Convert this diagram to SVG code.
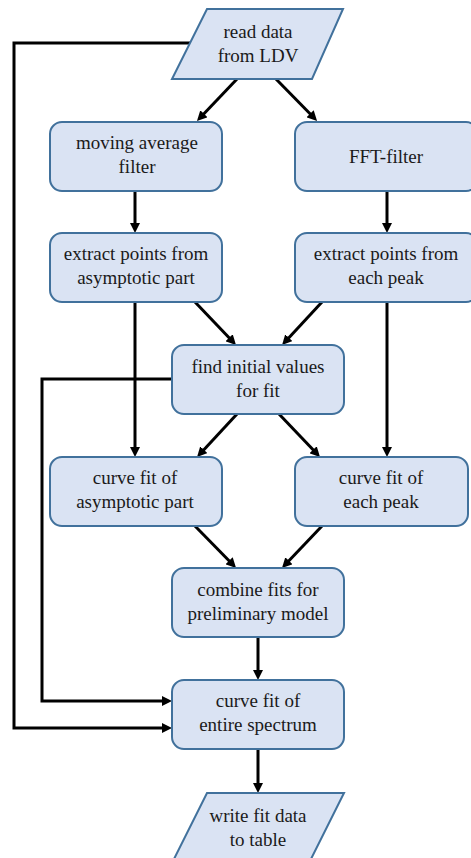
<svg xmlns="http://www.w3.org/2000/svg" width="471" height="858" viewBox="0 0 471 858">
<style>
.n{fill:#dae3f3;stroke:#41719c;stroke-width:2}
.t{font-family:'Liberation Serif','DejaVu Serif',serif;font-size:19px;fill:#1a1a1a;text-anchor:middle}
.c{fill:none;stroke:#000;stroke-width:3}
</style>
<defs>
<marker id="ah" viewBox="0 0 10 10" markerWidth="10" markerHeight="10" refX="2" refY="5" orient="auto" markerUnits="userSpaceOnUse">
<path d="M0,0 L10,5 L0,10 z" fill="#000"/>
</marker>
</defs>
<rect width="471" height="858" fill="#fff"/>
<g id="connectors">
<path class="c" d="M190,43 H14 V728 H164" marker-end="url(#ah)"/>
<path class="c" d="M172,379 H42 V701 H164" marker-end="url(#ah)"/>
<path class="c" d="M237,79 L202.5,115.2" marker-end="url(#ah)"/>
<path class="c" d="M276,79 L311.5,115.2" marker-end="url(#ah)"/>
<path class="c" d="M135,191 V225" marker-end="url(#ah)"/>
<path class="c" d="M387,191 V225" marker-end="url(#ah)"/>
<path class="c" d="M195,302 L230.5,339.2" marker-end="url(#ah)"/>
<path class="c" d="M322,302 L287.5,339.2" marker-end="url(#ah)"/>
<path class="c" d="M135,302 V449" marker-end="url(#ah)"/>
<path class="c" d="M387,302 V449" marker-end="url(#ah)"/>
<path class="c" d="M237,414 L202.5,451.2" marker-end="url(#ah)"/>
<path class="c" d="M279,414 L314.5,451.2" marker-end="url(#ah)"/>
<path class="c" d="M195,526 L230.5,562.2" marker-end="url(#ah)"/>
<path class="c" d="M322,526 L287.5,562.2" marker-end="url(#ah)"/>
<path class="c" d="M258,637 V672" marker-end="url(#ah)"/>
<path class="c" d="M258,749 V785" marker-end="url(#ah)"/>
</g>
<g id="read">
<path class="n" d="M207,9 H343 L312,79 H172 Z"/>
<text class="t" x="258" y="38" font-family="Liberation Serif">read data</text>
<text class="t" x="258" y="62">from LDV</text>
</g>
<g id="moving">
<rect class="n" x="50" y="122" width="172" height="69" rx="12"/>
<text class="t" x="137" y="149">moving average</text>
<text class="t" x="137" y="173">filter</text>
</g>
<g id="fft">
<rect class="n" x="295" y="122" width="183" height="69" rx="12"/>
<text class="t" x="386" y="163">FFT-filter</text>
</g>
<g id="extractAsym">
<rect class="n" x="50" y="233" width="172" height="69" rx="12"/>
<text class="t" x="136" y="260">extract points from</text>
<text class="t" x="136" y="284">asymptotic part</text>
</g>
<g id="extractPeak">
<rect class="n" x="295" y="233" width="183" height="69" rx="12"/>
<text class="t" x="386" y="260">extract points from</text>
<text class="t" x="386" y="284">each peak</text>
</g>
<g id="init">
<rect class="n" x="172" y="345" width="172" height="69" rx="12"/>
<text class="t" x="258" y="373">find initial values</text>
<text class="t" x="258" y="397">for fit</text>
</g>
<g id="fitAsym">
<rect class="n" x="50" y="457" width="172" height="69" rx="12"/>
<text class="t" x="135" y="484">curve fit of</text>
<text class="t" x="135" y="508">asymptotic part</text>
</g>
<g id="fitPeak">
<rect class="n" x="295" y="457" width="173" height="69" rx="12"/>
<text class="t" x="381" y="484">curve fit of</text>
<text class="t" x="381" y="508">each peak</text>
</g>
<g id="combine">
<rect class="n" x="172" y="568" width="172" height="69" rx="12"/>
<text class="t" x="258" y="596">combine fits for</text>
<text class="t" x="258" y="620">preliminary model</text>
</g>
<g id="fitEntire">
<rect class="n" x="172" y="680" width="172" height="69" rx="12"/>
<text class="t" x="258" y="707">curve fit of</text>
<text class="t" x="258" y="731">entire spectrum</text>
</g>
<g id="write">
<path class="n" d="M207,793 H344 L309,863 H172 Z"/>
<text class="t" x="258" y="822">write fit data</text>
<text class="t" x="258" y="846">to table</text>
</g>
</svg>
